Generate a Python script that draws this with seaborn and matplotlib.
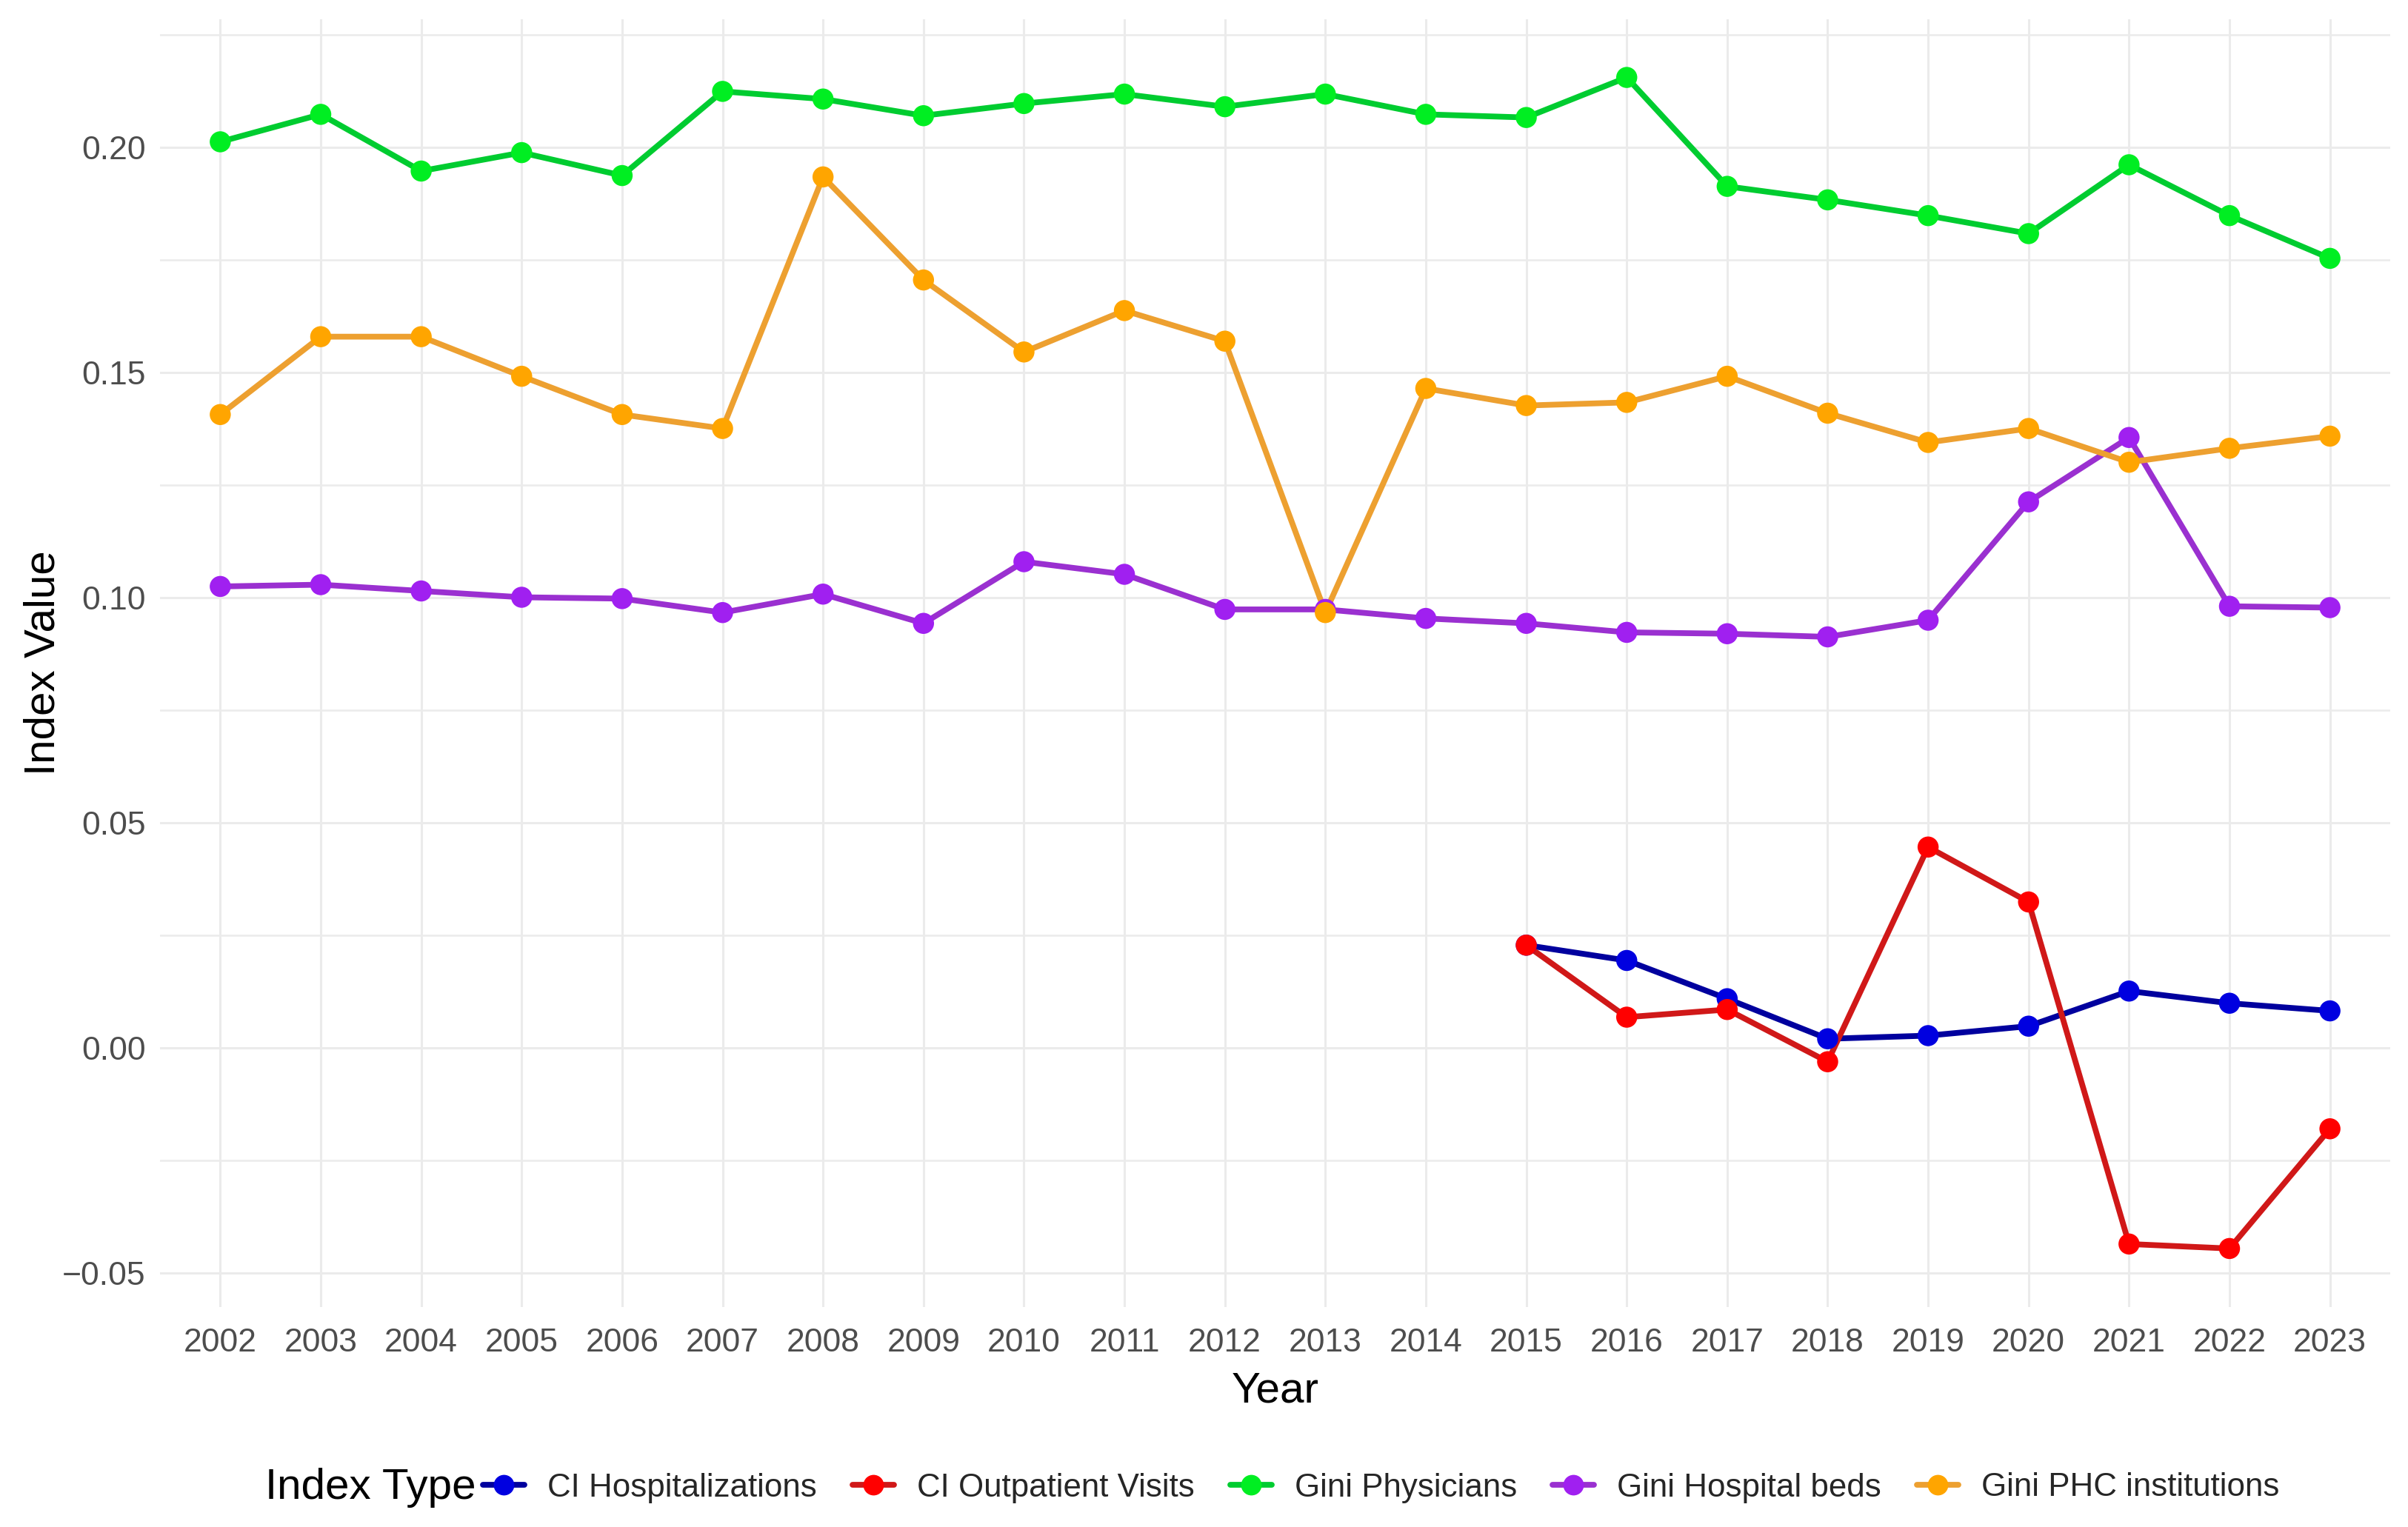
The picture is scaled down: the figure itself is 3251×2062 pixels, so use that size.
import pandas as pd;
import numpy as np;
import seaborn as sns;
import matplotlib;
matplotlib.use("Agg");
import matplotlib.pyplot as plt;
from matplotlib.lines import Line2D;
from matplotlib.ticker import MultipleLocator;

#===============================================================================
# Datos
years = list(range(2002, 2024));

gini_physicians = [0.2013, 0.2074, 0.1948, 0.1989, 0.1938, 0.2125, 0.2108, 0.2071,
                   0.2098, 0.2119, 0.2091, 0.2119, 0.2074, 0.2067, 0.2156, 0.1914,
                   0.1884, 0.1849, 0.1809, 0.1962, 0.1849, 0.1754];
gini_phc = [0.1407, 0.1580, 0.1580, 0.1492, 0.1407, 0.1376, 0.1935, 0.1706,
            0.1546, 0.1638, 0.1570, 0.0967, 0.1465, 0.1427, 0.1434, 0.1492,
            0.1410, 0.1345, 0.1376, 0.1301, 0.1332, 0.1359];
gini_beds = [0.1025, 0.1029, 0.1015, 0.1001, 0.0998, 0.0967, 0.1008, 0.0943,
             0.1080, 0.1052, 0.0974, 0.0974, 0.0954, 0.0943, 0.0923, 0.0920,
             0.0913, 0.0950, 0.1213, 0.1356, 0.0981, 0.0978];
# CI solo desde 2015
ci_years = list(range(2015, 2024));
ci_hosp = [0.0228, 0.0194, 0.0109, 0.0020, 0.0027, 0.0048, 0.0126, 0.0099, 0.0082];
ci_outp = [0.0228, 0.0068, 0.0085, -0.0031, 0.0446, 0.0324, -0.0436, -0.0446, -0.0180];

series_names = ["CI Hospitalizations", "CI Outpatient Visits", "Gini Physicians",
                "Gini Hospital beds", "Gini PHC institutions"];
point_colors = ["#0000E0", "#FF0000", "#00EE22", "#A020F0", "#FFA500"];
line_colors = ["#00009E", "#D01818", "#00CC30", "#9A30D0", "#EDA030"];

#-------------------------------------------------------------------------------
frames = [
    pd.DataFrame({"Year": ci_years, "Index Value": ci_hosp, "Index Type": series_names[0]}),
    pd.DataFrame({"Year": ci_years, "Index Value": ci_outp, "Index Type": series_names[1]}),
    pd.DataFrame({"Year": years, "Index Value": gini_physicians, "Index Type": series_names[2]}),
    pd.DataFrame({"Year": years, "Index Value": gini_beds, "Index Type": series_names[3]}),
    pd.DataFrame({"Year": years, "Index Value": gini_phc, "Index Type": series_names[4]}),
];
df = pd.concat(frames, ignore_index=True);

sns.set_theme(style="white");
plt.rcParams["font.family"] = ["Liberation Sans", "DejaVu Sans"];

W, H, DPI = 3251, 2062, 200;
fig = plt.figure(figsize=(W / DPI, H / DPI), dpi=DPI);
ax = fig.add_axes([216 / W, 1 - 1765 / H, (3227 - 216) / W, (1765 - 25.5) / H]);

sns.lineplot(data=df, x="Year", y="Index Value", hue="Index Type",
             hue_order=series_names, palette=line_colors, linewidth=2.8,
             legend=False, ax=ax, zorder=2);
sns.scatterplot(data=df, x="Year", y="Index Value", hue="Index Type",
                hue_order=series_names, palette=point_colors, s=105,
                linewidth=0, legend=False, ax=ax, zorder=3);

# Limites estilo ggplot (expansion del 5%)
vmin = df["Index Value"].min();
vmax = df["Index Value"].max();
rng = vmax - vmin;
ax.set_ylim(vmin - 0.05 * rng, vmax + 0.05 * rng);
ax.set_xlim(years[0] - 0.6, years[-1] + 0.6);

ax.set_xticks(years);
ax.set_xticklabels([str(y) for y in years]);
ax.yaxis.set_major_locator(MultipleLocator(0.05));
ax.yaxis.set_minor_locator(MultipleLocator(0.025));
ax.set_yticks([-0.05, 0.0, 0.05, 0.10, 0.15, 0.20]);
ax.set_yticklabels(["\u22120.05", "0.00", "0.05", "0.10", "0.15", "0.20"]);

ax.grid(which="major", color="#EBEBEB", linewidth=1.1, zorder=0);
ax.grid(which="minor", axis="y", color="#EBEBEB", linewidth=0.9, zorder=0);
ax.set_axisbelow(True);
for s in ax.spines.values():
    s.set_visible(False);

ax.tick_params(axis="both", which="both", length=0, labelsize=16, colors="#4D4D4D");
ax.tick_params(axis="x", pad=10);
ax.tick_params(axis="y", pad=7);

ax.set_xlabel("Year", fontsize=21, color="black");
ax.set_ylabel("Index Value", fontsize=21, color="black");
ax.xaxis.set_label_coords(0.5, -0.050);
ax.xaxis.label.set_va("top");
ax.yaxis.set_label_coords(-0.0435, 0.5);

# Leyenda abajo, titulo a la izquierda
handles = [Line2D([0], [0], color=lc, linewidth=2.8, marker="o", markersize=10,
                  markerfacecolor=pc, markeredgewidth=0)
           for lc, pc in zip(line_colors, point_colors)];
fig.legend(handles, series_names, ncol=5, loc="center left",
           bbox_to_anchor=(652 / W, 1 - 2009 / H), frameon=False, fontsize=15.8,
           handlelength=1.28, handletextpad=0.7, columnspacing=1.1,
           borderpad=0, borderaxespad=0);
fig.text(358 / W, 1 - 2009 / H, "Index Type", fontsize=21, color="black",
         ha="left", va="center");

fig.savefig("out.png", dpi=DPI, facecolor="white");
plt.close(fig);
